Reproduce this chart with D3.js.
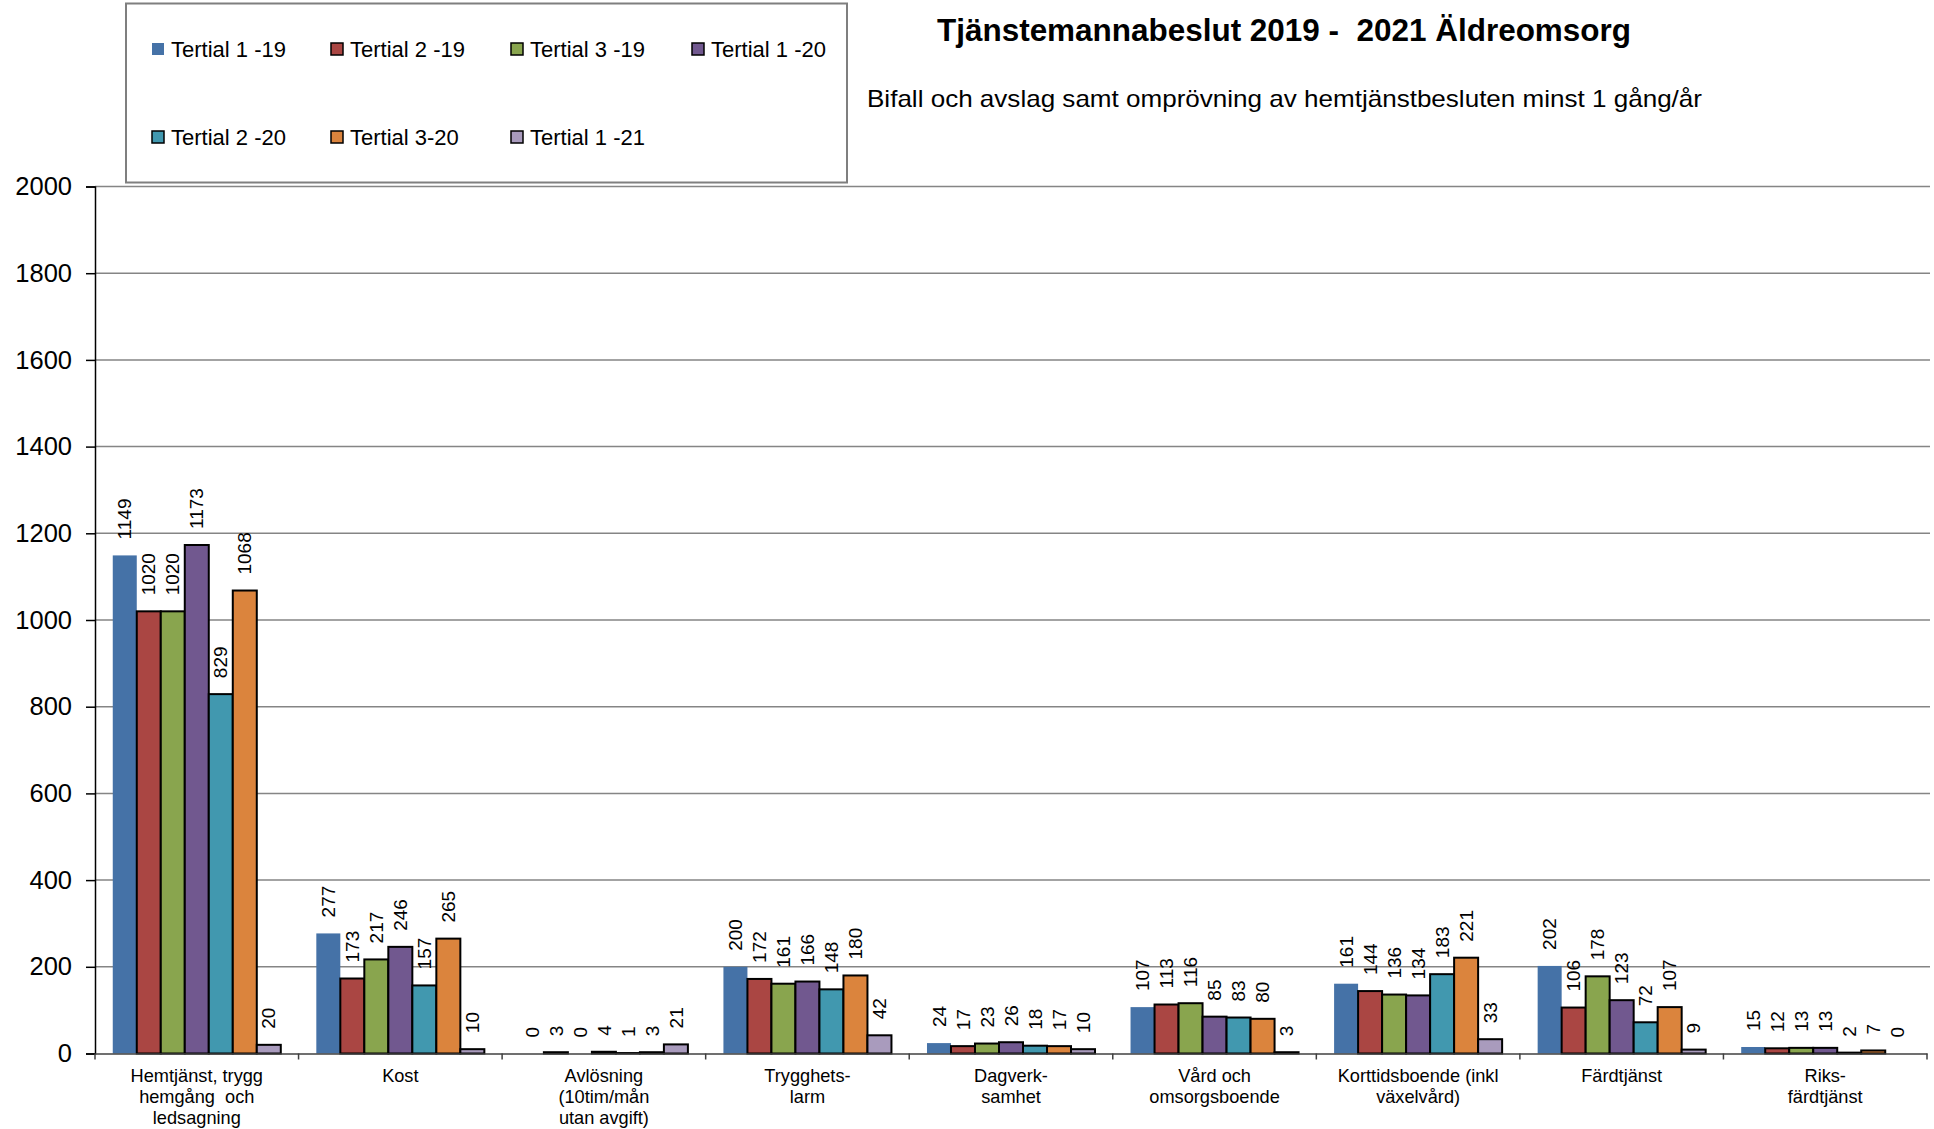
<!DOCTYPE html>
<html><head><meta charset="utf-8">
<script src="https://cdn.jsdelivr.net/npm/d3@7"></script>
<style>body{margin:0;background:#fff}svg{display:block}text{font-family:"Liberation Sans",Arial,sans-serif;fill:#000;white-space:pre}</style>
</head><body>
<script>
const categories = [
  ["Hemtjänst, trygg","hemgång  och","ledsagning"],
  ["Kost"],
  ["Avlösning","(10tim/mån","utan avgift)"],
  ["Trygghets-","larm"],
  ["Dagverk-","samhet"],
  ["Vård och","omsorgsboende"],
  ["Korttidsboende (inkl","växelvård)"],
  ["Färdtjänst"],
  ["Riks-","färdtjänst"]
];
const seriesNames = ["Tertial 1 -19","Tertial 2 -19","Tertial 3 -19","Tertial 1 -20","Tertial 2 -20","Tertial 3-20","Tertial 1 -21"];
const t1_19 = [1149,277,0,200,24,107,161,202,15];
const t2_19 = [1020,173,3,172,17,113,144,106,12];
const t3_19 = [1020,217,0,161,23,116,136,178,13];
const t1_20 = [1173,246,4,166,26,85,134,123,13];
const t2_20 = [829,157,1,148,18,83,183,72,2];
const t3_20 = [1068,265,3,180,17,80,221,107,7];
const t1_21 = [20,10,21,42,10,3,33,9,0];
const seriesValues = [t1_19,t2_19,t3_19,t1_20,t2_20,t3_20,t1_21];
const colors = ["#4572A7","#AA4643","#89A54E","#71588F","#4198AF","#DB843D","#A99BBD"];
const yTicks = [0,200,400,600,800,1000,1200,1400,1600,1800,2000];
const title = "Tjänstemannabeslut 2019 -  2021 Äldreomsorg";
const subtitle = "Bifall och avslag samt omprövning av hemtjänstbesluten minst 1 gång/år";

(function() {
const W = 1934, H = 1129;
const svg = d3.select("body").append("svg").attr("width", W).attr("height", H);

const pLeft = 95, pRight = 1927, pTop = 186.5, pBottom = 1053.5;
const y = d3.scaleLinear().domain([0, 2000]).range([pBottom, pTop]);
const x0 = d3.scaleBand().domain(d3.range(categories.length)).range([pLeft, pRight]).padding(0);
const x1 = d3.scaleBand().domain(d3.range(seriesNames.length)).range([0, x0.bandwidth()]).paddingInner(0).paddingOuter(0.74);

// gridlines
svg.append("g").selectAll("line").data(yTicks.filter(d => d > 0)).join("line")
  .attr("x1", pLeft).attr("x2", pRight + 3)
  .attr("y1", d => y(d)).attr("y2", d => y(d))
  .attr("stroke", "#858585").attr("stroke-width", 1.5);

// y axis
const yAxis = svg.append("g").attr("transform", `translate(${pLeft},0)`)
  .call(d3.axisLeft(y).tickValues(yTicks).tickSize(9).tickPadding(14).tickFormat(d3.format("d")));
yAxis.select(".domain").attr("stroke", "#000").attr("stroke-width", 1.5);
yAxis.selectAll(".tick line").attr("stroke", "#000").attr("stroke-width", 1.5);
yAxis.selectAll("text").style("font-size", "25.5px").style("font-family", '"Liberation Sans", Arial, sans-serif').attr("fill", "#000");

// bars
const groups = svg.append("g").selectAll("g").data(seriesValues).join("g");
groups.each(function(vals, si) {
  const g = d3.select(this);
  const data = vals.map((v, ci) => ({v, ci})).filter(d => d.v > 0);
  g.selectAll("rect").data(data).join("rect")
    .attr("x", d => x0(d.ci) + x1(si))
    .attr("width", x1.bandwidth())
    .attr("y", d => y(d.v))
    .attr("height", d => y(0) - y(d.v))
    .attr("fill", colors[si])
    .attr("stroke", si === 0 ? "none" : "#000")
    .attr("stroke-width", 2);
});

// x axis line
const xAxis = svg.append("g").attr("transform", `translate(0,${pBottom})`)
  .call(d3.axisBottom(x0).tickValues([]).tickSize(0));
xAxis.select(".domain").attr("stroke", "#404040").attr("stroke-width", 1.5);
svg.append("g").selectAll("line").data(d3.range(categories.length + 1)).join("line")
  .attr("x1", d => pLeft + d * x0.step()).attr("x2", d => pLeft + d * x0.step())
  .attr("y1", pBottom).attr("y2", pBottom + 6)
  .attr("stroke", "#404040").attr("stroke-width", 1.5);

// data labels
groups.each(function(vals, si) {
  const g = d3.select(this);
  g.selectAll("text").data(vals.map((v, ci) => ({v, ci}))).join("text")
    .attr("transform", d => `translate(${x0(d.ci) + x1(si) + x1.bandwidth()/2},${y(d.v) - 16}) rotate(-90)`)
    .attr("dy", "0.35em")
    .attr("text-anchor", "start")
    .style("font-size", "19px")
    .text(d => d.v);
});

// category labels
const cl = svg.append("g").selectAll("text").data(categories).join("text")
  .attr("text-anchor", "middle")
  .attr("x", (d, i) => x0(i) + x0.bandwidth()/2)
  .attr("y", 1082)
  .style("font-size", "18.2px");
cl.selectAll("tspan").data(d => d).join("tspan")
  .attr("x", function() { return d3.select(this.parentNode).attr("x"); })
  .attr("dy", (d, i) => i === 0 ? 0 : 21)
  .text(d => d);

// legend
svg.append("rect").attr("x", 126).attr("y", 3.5).attr("width", 721).attr("height", 179)
  .attr("fill", "#fff").attr("stroke", "#7f7f7f").attr("stroke-width", 2);
const colX = [152, 331, 511, 692];
const rowY = [49, 137];
const leg = svg.append("g").selectAll("g").data(seriesNames).join("g")
  .attr("transform", (d, i) => `translate(${colX[i % 4]},${rowY[Math.floor(i / 4)]})`);
leg.append("rect").attr("x", 0).attr("y", -6).attr("width", 12).attr("height", 12)
  .attr("fill", (d, i) => colors[i])
  .attr("stroke", (d, i) => i === 0 ? "none" : "#000").attr("stroke-width", 1.5);
leg.append("text").attr("x", 19).attr("dy", "0.36em").style("font-size", "22px").text(d => d);

// titles
svg.append("text").attr("x", 937).attr("y", 41).style("font-size", "32px").style("font-weight", "bold")
  .attr("textLength", 694).attr("lengthAdjust", "spacingAndGlyphs").text(title);
svg.append("text").attr("x", 867).attr("y", 107).style("font-size", "24px")
  .attr("textLength", 835).attr("lengthAdjust", "spacingAndGlyphs").text(subtitle);
})();
</script>
</body></html>
